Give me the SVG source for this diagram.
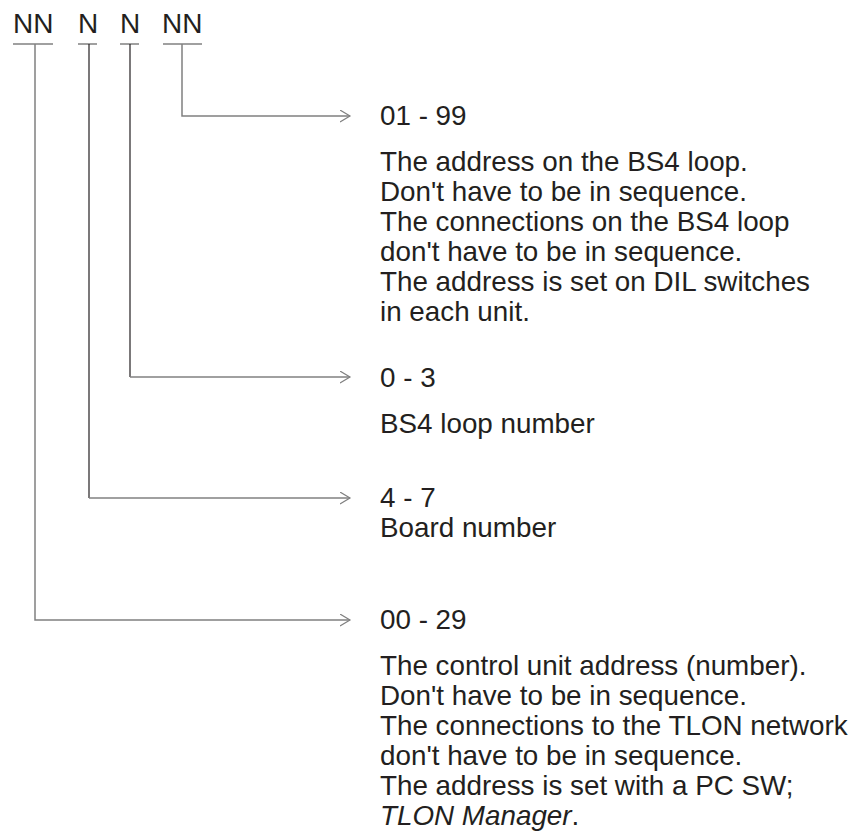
<svg xmlns="http://www.w3.org/2000/svg" width="851" height="837" viewBox="0 0 851 837">
<defs>
<style>
.t{font-family:"Liberation Sans",Arial,sans-serif;font-size:27.8px;fill:#231f20}
.h{font-family:"Liberation Sans",Arial,sans-serif;font-size:28px;fill:#231f20}
.g{stroke:#808080;stroke-width:1.5;fill:none}
.d{stroke:#231f20;stroke-width:1.2;fill:none}
.a{stroke:#808080;stroke-width:1.2;fill:none}
</style>
<marker id="arr" markerUnits="userSpaceOnUse" markerWidth="14" markerHeight="16" refX="10" refY="6" orient="auto">
<path d="M0,0 L10,6 L0,12" class="a"/>
</marker>
</defs>
<rect width="851" height="837" fill="#fff"/>
<g id="header">
<text class="h" x="13" y="33">NN</text>
<text class="h" x="78" y="33">N</text>
<text class="h" x="120" y="33">N</text>
<text class="h" x="162" y="33">NN</text>
<line class="g" x1="13" y1="44" x2="53" y2="44"/>
<line class="g" x1="78" y1="44" x2="97" y2="44"/>
<line class="g" x1="120" y1="44" x2="139" y2="44"/>
<line class="g" x1="163" y1="44" x2="202" y2="44"/>
</g>
<g id="connectors">
<path class="g" d="M182,44 V116 H350" marker-end="url(#arr)"/>
<path class="d" d="M130,44 V377"/>
<path class="g" d="M130,377 H350" marker-end="url(#arr)"/>
<path class="d" d="M89,44 V498"/>
<path class="g" d="M89,498 H350" marker-end="url(#arr)"/>
<path class="g" d="M35,44 V620 H350" marker-end="url(#arr)"/>
</g>
<g id="node-loop-address">
<text class="t" x="380" y="125">01 - 99</text>
<text class="t" x="380" y="171">The address on the BS4 loop.</text>
<text class="t" x="380" y="201">Don't have to be in sequence.</text>
<text class="t" x="380" y="231">The connections on the BS4 loop</text>
<text class="t" x="380" y="261">don't have to be in sequence.</text>
<text class="t" x="380" y="291">The address is set on DIL switches</text>
<text class="t" x="380" y="321">in each unit.</text>
</g>
<g id="node-loop-number">
<text class="t" x="380" y="387">0 - 3</text>
<text class="t" x="380" y="433">BS4 loop number</text>
</g>
<g id="node-board-number">
<text class="t" x="380" y="507">4 - 7</text>
<text class="t" x="380" y="537">Board number</text>
</g>
<g id="node-control-unit">
<text class="t" x="380" y="629">00 - 29</text>
<text class="t" x="380" y="675">The control unit address (number).</text>
<text class="t" x="380" y="705">Don't have to be in sequence.</text>
<text class="t" x="380" y="735">The connections to the TLON network</text>
<text class="t" x="380" y="765">don't have to be in sequence.</text>
<text class="t" x="380" y="795">The address is set with a PC SW;</text>
<text class="t" x="380" y="825"><tspan font-style="italic">TLON Manager</tspan>.</text>
</g>
</svg>
